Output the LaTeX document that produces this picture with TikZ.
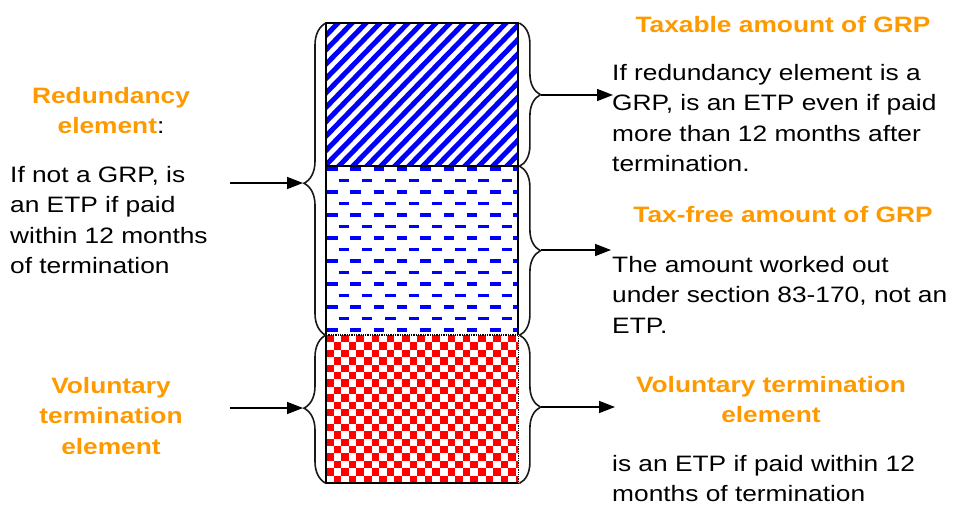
\documentclass[tikz,border=0pt]{standalone}
\usepackage{fontspec}
\setmainfont{Liberation Sans}[FakeStretch=1.18]
\usetikzlibrary{decorations.pathreplacing,arrows.meta}
\definecolor{hdorange}{RGB}{255,153,0}
\begin{document}
\begin{tikzpicture}[x=1pt,y=-1pt,
  body/.style={inner sep=0pt, align=left, font=\fontsize{22.3}{30.5}\selectfont, text=black},
  head/.style={inner sep=0pt, align=center, font=\fontsize{22.3}{30.5}\selectfont\bfseries, text=hdorange},
  bracestyle/.style={decorate, line width=1.6pt, draw=black!90},
  arr/.style={line width=1.6pt, -{Triangle[length=16pt,width=12pt]}},
  outline/.style={line width=2pt, draw=black},
  region/.style={inner sep=0pt, minimum width=192pt, anchor=north west}]
\useasboundingbox (0,0) rectangle (954,505);

% regions
\node[region, minimum height=143pt] (taxable) at (326,23) {};
\node[region, minimum height=169pt] (taxfree) at (326,166) {};
\node[region, minimum height=148pt] (volun) at (326,335) {};

% stripes
\begin{scope}
\clip (taxable.north west) rectangle (taxable.south east);
\foreach \k in {0,...,26} {
  \draw[blue, line width=5pt] ({183+\k*14},168) -- ({326+\k*14},21);
}
\end{scope}

% dashes
\begin{scope}
\clip (taxfree.north west) rectangle (taxfree.south east);
\foreach \r in {0,...,14} {
  \pgfmathsetmacro{\yy}{169+11.5*\r}
  \pgfmathsetmacro{\off}{mod(\r,2)==0 ? 327 : 338.6}
  \foreach \m in {-1,0,...,8} {
    \draw[blue, line width=3.3pt] ({\off+23.3*\m},\yy) -- ({\off+23.3*\m+10.5},\yy);
  }
}
\end{scope}

% checker
\begin{scope}
\clip (volun.north west) rectangle (volun.south east);
\foreach \i in {0,2,...,26} {
  \foreach \j in {0,2,...,20} {
    \fill[red] ({326+\i*7.6},{335+\j*7.4}) rectangle ++(7.6,7.4);
    \fill[red] ({326+(\i+1)*7.6},{335+(\j+1)*7.4}) rectangle ++(7.6,7.4);
  }
}
\end{scope}

% outline
\draw[outline] (taxfree.south east) -- (taxable.north east) -- (taxable.north west) -- (volun.south west) -- (volun.south east);
\draw[outline] (taxable.south west) -- (taxable.south east);
\draw[line width=1.3pt, densely dotted] (volun.north west) -- (volun.north east) -- (volun.south east);

% braces
\draw[bracestyle, decoration={brace, amplitude=22pt, aspect=0.487}] (taxfree.south west) -- (taxable.north west);
\draw[bracestyle, decoration={brace, amplitude=22pt, aspect=0.507}] (volun.south west) -- (volun.north west);
\draw[bracestyle, decoration={brace, amplitude=21pt, aspect=0.5}] ([xshift=1pt]taxable.north east) -- ([xshift=1pt]taxable.south east);
\draw[bracestyle, decoration={brace, amplitude=21pt, aspect=0.5}] ([xshift=1pt]taxfree.north east) -- ([xshift=1pt]taxfree.south east);
\draw[bracestyle, decoration={brace, amplitude=21pt, aspect=0.486}] ([xshift=1pt]volun.north east) -- ([xshift=1pt]volun.south east);

% arrow ends
\coordinate (la1) at (230,183);
\coordinate (lt1) at (303,183);
\coordinate (la2) at (230,408);
\coordinate (lt2) at (303,408);
\coordinate (rt1) at (541,95);
\coordinate (ra1) at (613,95);
\coordinate (rt2) at (541,250);
\coordinate (ra2) at (611,250);
\coordinate (rt3) at (541,407);
\coordinate (ra3) at (615,407);
\draw[arr] (la1) -- (lt1);
\draw[arr] (la2) -- (lt2);
\draw[arr] (rt1) -- (ra1);
\draw[arr] (rt2) -- (ra2);
\draw[arr] (rt3) -- (ra3);

% texts
\node[head, anchor=north] (redh) at (111,87) {Redundancy\\element\textcolor{black}{\mdseries:}};
\node[body, anchor=north west] (redb) at (10,166) {If not a GRP, is\\an ETP if paid\\within 12 months\\of termination};
\node[head, anchor=north] (volh) at (111,377) {Voluntary\\termination\\element};
\node[head, anchor=north] (taxh) at (783,16) {Taxable amount of GRP};
\node[body, anchor=north west] (taxb) at (612,64) {If redundancy element is a\\GRP, is an ETP even if paid\\more than 12 months after\\termination.};
\node[head, anchor=north] (freeh) at (783,206) {Tax-free amount of GRP};
\node[body, anchor=north west] (freeb) at (612,256) {The amount worked out\\under section 83-170, not an\\ETP.};
\node[head, anchor=north] (vrh) at (771,376) {Voluntary termination\\element};
\node[body, anchor=north west] (vrb) at (612,455) {is an ETP if paid within 12\\months of termination};
\end{tikzpicture}
\end{document}
